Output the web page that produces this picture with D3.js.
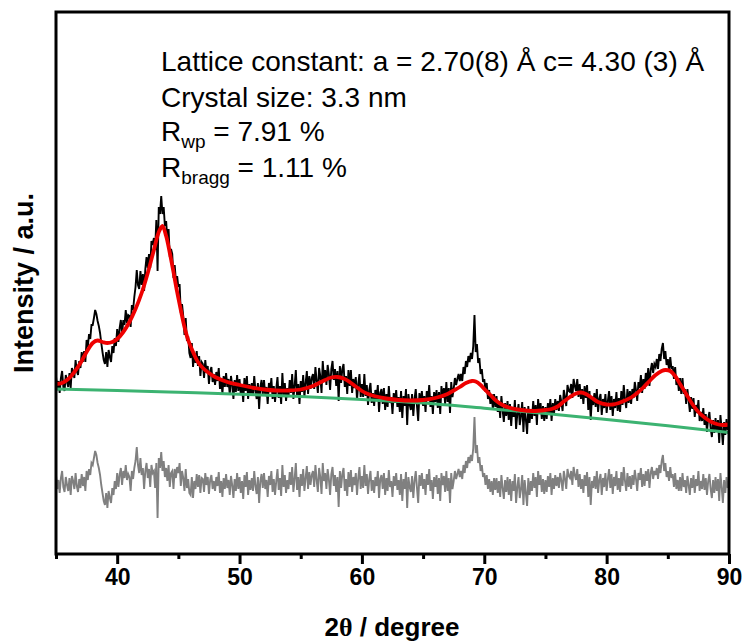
<!DOCTYPE html>
<html><head><meta charset="utf-8">
<script src="https://cdn.jsdelivr.net/npm/d3@7"></script>
<style>html,body{margin:0;padding:0;background:#fff;}svg{display:block;}</style>
</head><body>
<svg id="chart" width="745" height="644"></svg>
<script>
// ---- data (intensity in arbitrary units) ----
const twoTheta = d3.range(350, 901).map(d => d / 10); // 35.0 .. 90.0, 0.1 deg grid
const observed = [
178,164,173,161,176,183,167,163,179,172,
167,181,166,186,183,176,194,183,179,193,
186,202,192,203,192,214,207,220,215,229,
229,236,244,240,233,228,221,211,202,194,
190,202,187,204,197,192,208,201,216,208,
225,212,226,234,219,234,229,244,231,239,
238,227,249,244,257,267,284,269,265,283,
269,280,263,285,297,286,300,286,313,309,
316,304,334,283,347,340,358,340,347,328,
333,315,325,297,305,300,276,289,273,278,
267,270,241,250,238,219,236,213,218,201,
196,211,187,201,191,203,188,198,178,192,
190,176,194,181,188,170,183,187,172,180,
169,182,173,186,165,176,160,178,167,181,
167,175,159,178,169,155,174,162,179,163,
175,159,170,152,176,163,178,155,170,159,
171,158,178,163,155,171,145,167,174,159,
174,158,167,150,171,162,176,155,168,152,
165,177,156,168,150,181,159,171,153,166,
157,174,161,180,155,168,184,157,170,150,
173,162,179,157,171,183,160,178,165,176,
180,165,187,173,161,186,178,161,193,175,
184,169,189,180,164,185,193,174,185,168,
183,153,188,171,185,190,167,178,160,184,
168,184,161,175,166,177,154,170,180,157,
170,157,180,158,169,149,164,171,151,161,
148,164,155,169,142,161,165,150,166,144,
160,147,168,151,157,140,161,151,164,147,
157,142,163,136,158,148,165,129,160,150,
144,160,138,155,165,148,133,161,150,163,
148,158,142,163,153,169,147,158,140,162,
152,164,146,162,140,168,156,166,150,172,
152,166,141,172,157,165,176,169,175,180,
173,180,173,187,180,193,187,198,192,201,
195,208,239,202,210,191,196,180,185,172,
175,162,171,155,164,150,160,145,160,147,
158,142,153,136,158,144,132,151,138,153,
134,150,128,147,137,154,125,140,150,129,
138,152,122,147,134,120,148,131,145,135,
153,138,149,129,155,141,151,135,148,133,
147,135,151,141,155,133,151,140,155,144,
153,143,159,152,143,164,157,148,169,163,
162,170,156,175,168,163,175,157,170,155,
165,150,168,156,169,144,163,134,157,149,
161,147,165,142,155,160,139,155,146,160,
141,153,163,144,158,138,155,146,162,143,
156,142,163,149,169,155,146,165,151,163,
150,165,156,172,164,153,172,166,179,161,
175,165,181,172,186,168,184,191,181,190,
187,195,185,200,193,205,211,195,203,189,
195,184,197,185,188,175,187,169,176,163,
176,160,176,160,165,150,165,154,142,157,
145,156,137,149,141,154,133,142,133,146,
129,140,122,136,142,126,117,134,121,136,
122,134,111,139,125,109,132,119,135,124,
132];
const difference = [
79,65,74,61,76,83,67,62,77,69,
63,76,59,78,73,65,81,68,62,75,
66,80,68,77,63,83,74,85,79,91,
89,96,103,99,91,86,79,69,61,53,
49,61,46,63,56,51,66,59,73,65,
81,67,79,86,69,83,76,89,74,80,
77,63,83,75,86,93,107,89,81,96,
79,86,65,83,91,76,85,67,89,81,
83,66,91,36,96,86,102,83,93,77,
86,73,89,67,81,83,65,85,76,87,
81,91,68,83,76,63,85,66,75,61,
59,77,56,73,65,80,67,79,61,76,
75,62,81,69,77,60,74,79,65,73,
63,77,68,82,61,73,57,76,65,80,
66,74,59,78,69,56,75,63,81,65,
77,61,73,55,79,67,82,59,74,64,
76,63,83,68,60,77,51,73,80,66,
81,65,74,57,78,69,83,62,75,59,
73,85,64,76,58,89,67,79,61,74,
65,82,69,87,62,75,91,64,77,57,
80,68,85,63,76,88,65,82,69,79,
83,67,89,74,62,86,77,60,91,73,
81,65,85,75,59,80,87,68,79,62,
77,47,83,66,80,86,63,75,58,82,
67,84,62,77,69,81,59,76,87,65,
78,66,89,68,80,60,75,83,63,74,
61,77,68,83,56,75,79,65,81,59,
76,63,84,67,73,57,78,68,81,64,
74,59,80,53,75,65,82,46,77,67,
62,78,56,73,83,66,51,79,68,81,
65,75,59,80,69,85,63,74,55,77,
67,79,60,76,53,81,69,78,62,83,
63,76,51,81,65,73,83,75,80,85,
77,83,75,89,81,93,86,97,91,99,
93,106,137,101,109,91,97,83,89,77,
81,69,79,65,75,62,73,59,76,64,
76,61,73,57,79,66,55,74,62,77,
59,75,53,73,63,80,51,67,77,56,
65,79,49,74,61,48,76,59,73,63,
81,66,77,57,83,69,79,62,75,60,
74,62,78,67,81,59,76,65,79,68,
77,66,81,73,63,83,75,65,85,78,
76,83,69,87,79,74,85,67,80,65,
75,61,79,68,82,57,77,49,73,66,
78,65,83,61,74,80,59,76,67,81,
63,75,85,66,80,60,77,68,83,64,
76,62,82,68,87,73,63,81,67,78,
65,79,69,84,75,63,81,74,86,67,
80,68,83,73,85,66,81,87,75,83,
79,86,75,89,81,93,99,83,91,77,
83,73,87,76,80,67,81,65,74,63,
77,63,81,67,74,61,78,69,59,76,
66,79,61,75,68,83,63,73,65,80,
64,76,59,73,80,65,56,74,61,77,
63,75,53,81,67,51,74,61,77,66,
73];
const calcTheta = [35,35.5,36,36.5,37,37.5,38,38.4,38.8,39.2,39.6,40,40.5,41,41.5,42,42.5,43,43.4,43.7,44,44.3,44.6,44.9,45.2,45.5,45.8,46.2,46.6,47,47.5,48,49,50,51,52,53,54,55,56,56.5,57,57.5,58,58.5,59,59.5,60,60.5,61,62,63,64,65,66,67,67.5,68,68.5,69,69.3,69.7,70,70.5,71,71.5,72,73,74,75,75.5,76,76.5,77,77.5,77.9,78.3,78.8,79.3,80,80.5,81,81.5,82,82.5,83,83.5,84,84.5,84.8,85.2,85.6,86,86.5,87,87.5,88,88.5,89,89.5,90];
const calculated = [170,171,175,182,191,202,211,213.5,212,211,212,215,222,232,245,261,281,304,322,328,318,301,282,262,244,227,214,202,192,186,181,177,172,169,166.5,164.5,163.5,163.5,164.5,168,171,174,176.5,177,175.5,172,167.5,163,160,158,155.5,154,153.5,154,156,160,163.5,167,171,173,172.5,169,165,159,153,149,146.5,144,143,144,145,147.5,152.5,157,160.5,161.5,160,156,152,149.5,149.5,151,153.5,156.5,161,166.5,173,179,183,184,183,178,170,160,150,142,136.5,132.5,130,129,129.5];
const bgTheta = [35,40,45,50,55,60,65,70,75,80,85,90];
const background = [165,163.5,161.7,159.8,157.5,154.6,151,145.8,140.5,134.5,128.2,121.5];
const majorTicks = [40,50,60,70,80,90];
const minorTicks = [35,45,55,65,75,85];

// ---- drawing ----
const svg = d3.select("#chart");
const x = d3.scaleLinear().domain([35, 90]).range([56, 729]);
const y = d3.scaleLinear().domain([0, 542]).range([554, 12]);
const FONT = "'Liberation Sans', Arial, Helvetica, sans-serif";

const lineObs = d3.line().x((d, i) => x(twoTheta[i])).y(d => y(d));
svg.append("path").datum(difference).attr("d", lineObs)
  .attr("fill", "none").attr("stroke", "#808080").attr("stroke-width", 1.9);
svg.append("path").datum(observed).attr("d", lineObs)
  .attr("fill", "none").attr("stroke", "#000").attr("stroke-width", 1.9);

const bgLine = d3.line().x((d, i) => x(bgTheta[i])).y(d => y(d)).curve(d3.curveMonotoneX);
svg.append("path").datum(background).attr("d", bgLine)
  .attr("fill", "none").attr("stroke", "#3cb371").attr("stroke-width", 3);

const calcLine = d3.line().x((d, i) => x(calcTheta[i])).y(d => y(d)).curve(d3.curveCatmullRom.alpha(0.5));
svg.append("path").datum(calculated).attr("d", calcLine)
  .attr("fill", "none").attr("stroke", "#ee0000").attr("stroke-width", 3.8)
  .attr("stroke-linejoin", "round");

// frame
svg.append("rect").attr("x", 56).attr("y", 12).attr("width", 673).attr("height", 542)
  .attr("fill", "none").attr("stroke", "#000").attr("stroke-width", 3);

// axes
const gMinor = svg.append("g").attr("transform", "translate(0,554)")
  .call(d3.axisBottom(x).tickValues(minorTicks).tickSize(5).tickFormat(""));
const gMajor = svg.append("g").attr("transform", "translate(0,554)")
  .call(d3.axisBottom(x).tickValues(majorTicks).tickSize(10).tickPadding(5).tickFormat(d3.format("d")));
[gMinor, gMajor].forEach(g => {
  g.select(".domain").remove();
  g.selectAll(".tick line").attr("stroke", "#000").attr("stroke-width", 3);
});
gMajor.selectAll(".tick text").attr("font-family", FONT).attr("font-weight", "bold")
  .attr("font-size", 23).attr("fill", "#000");

// axis titles
const xt = svg.append("text").attr("x", 392).attr("y", 636).attr("text-anchor", "middle")
  .attr("font-family", FONT).attr("font-weight", "bold").attr("font-size", 26);
xt.append("tspan").text("2");
xt.append("tspan").attr("font-family", "'Liberation Serif', 'DejaVu Serif', serif").text("θ");
xt.append("tspan").text(" / degree");

svg.append("text").attr("transform", "translate(33,283) rotate(-90)").attr("text-anchor", "middle")
  .attr("font-family", FONT).attr("font-weight", "bold").attr("font-size", 27).text("Intensity / a.u.");

// annotation
const ann = svg.append("g").attr("font-family", FONT).attr("font-size", 28).attr("fill", "#000");
ann.append("text").attr("x", 161).attr("y", 71).text("Lattice constant: a = 2.70(8) Å c= 4.30 (3) Å");
ann.append("text").attr("x", 161).attr("y", 107).text("Crystal size: 3.3 nm");
const r1 = ann.append("text").attr("x", 161).attr("y", 141);
r1.append("tspan").text("R");
r1.append("tspan").attr("font-size", 19).attr("dy", 7).text("wp");
r1.append("tspan").attr("dy", -7).text(" = 7.91 %");
const r2 = ann.append("text").attr("x", 161).attr("y", 177);
r2.append("tspan").text("R");
r2.append("tspan").attr("font-size", 19).attr("dy", 7).text("bragg");
r2.append("tspan").attr("dy", -7).text(" = 1.11 %");
</script>
</body></html>
